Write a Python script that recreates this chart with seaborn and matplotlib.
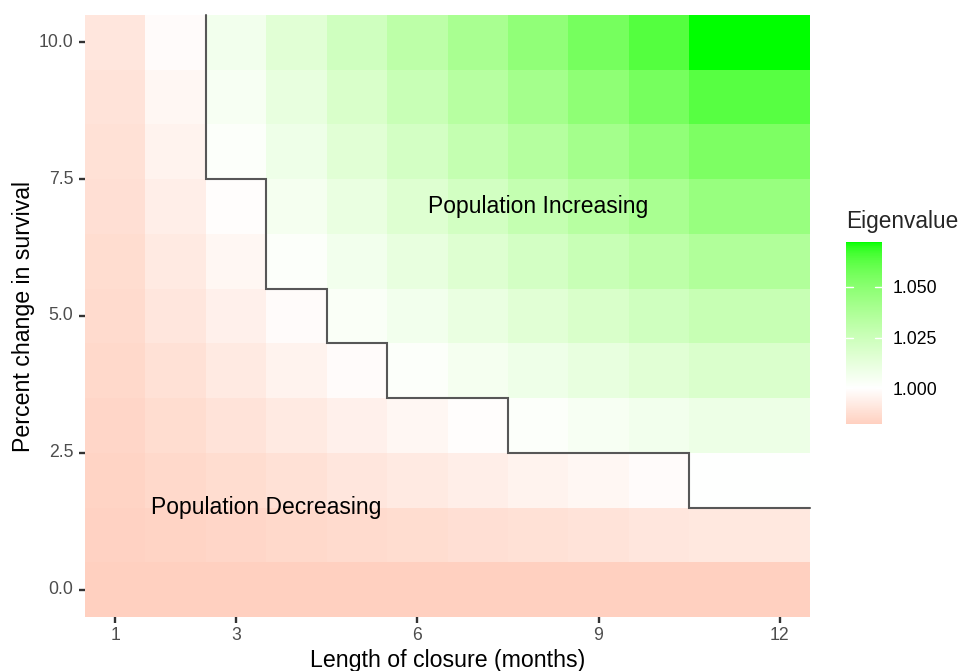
import numpy as np
import pandas as pd
import matplotlib
matplotlib.use("Agg")
import matplotlib.pyplot as plt
from matplotlib.colors import ListedColormap
import seaborn as sns

# Length of closure (months) and percent change in survival
months = [1, 2, 3, 4, 5, 6, 7, 8, 9, 10, 11, 12]
survival_change = [0, 1, 2, 3, 4, 5, 6, 7, 8, 9, 10]

# dominant eigenvalue for each cell, one row per survival change (0 .. 10)
eigenvalues = [
    [0.9824, 0.9824, 0.9824, 0.9824, 0.9824, 0.9824, 0.9824, 0.9824, 0.9824, 0.9824, 0.9824, 0.9824],
    [0.9832, 0.9840, 0.9848, 0.9857, 0.9865, 0.9873, 0.9881, 0.9889, 0.9897, 0.9906, 0.9914, 0.9914],
    [0.9840, 0.9857, 0.9873, 0.9889, 0.9906, 0.9922, 0.9938, 0.9954, 0.9971, 0.9987, 1.0003, 1.0003],
    [0.9848, 0.9873, 0.9897, 0.9922, 0.9946, 0.9971, 0.9995, 1.0020, 1.0044, 1.0069, 1.0093, 1.0093],
    [0.9857, 0.9889, 0.9922, 0.9954, 0.9987, 1.0020, 1.0052, 1.0085, 1.0117, 1.0150, 1.0183, 1.0183],
    [0.9865, 0.9906, 0.9946, 0.9987, 1.0028, 1.0069, 1.0109, 1.0150, 1.0191, 1.0232, 1.0272, 1.0272],
    [0.9873, 0.9922, 0.9971, 1.0020, 1.0069, 1.0117, 1.0166, 1.0215, 1.0264, 1.0313, 1.0362, 1.0362],
    [0.9881, 0.9938, 0.9995, 1.0052, 1.0109, 1.0166, 1.0223, 1.0280, 1.0337, 1.0395, 1.0452, 1.0452],
    [0.9889, 0.9954, 1.0020, 1.0085, 1.0150, 1.0215, 1.0280, 1.0346, 1.0411, 1.0476, 1.0541, 1.0541],
    [0.9897, 0.9971, 1.0044, 1.0117, 1.0191, 1.0264, 1.0337, 1.0411, 1.0484, 1.0558, 1.0631, 1.0631],
    [0.9906, 0.9987, 1.0069, 1.0150, 1.0232, 1.0313, 1.0395, 1.0476, 1.0558, 1.0639, 1.0721, 1.0721],
]

x_ticks = [1, 3, 6, 9, 12]
y_ticks = [0.0, 2.5, 5.0, 7.5, 10.0]
y_tick_labels = ["0.0", "2.5", "5.0", "7.5", "10.0"]
bar_ticks = [1.000, 1.025, 1.050]
bar_tick_labels = ["1.000", "1.025", "1.050"]

RGB2XYZ = np.array([[0.4124, 0.3576, 0.1805],
                    [0.2126, 0.7152, 0.0722],
                    [0.0193, 0.1192, 0.9505]])
WHITE = np.array([0.95047, 1.0, 1.08883])


def srgb_to_lab(c):
    c = np.asarray(c, float)
    lin = np.where(c <= 0.04045, c / 12.92, ((c + 0.055) / 1.055) ** 2.4)
    xyz = lin @ RGB2XYZ.T / WHITE
    f = np.where(xyz > 216 / 24389, np.cbrt(xyz), (24389 / 27 * xyz + 16) / 116)
    return np.stack([116 * f[..., 1] - 16,
                     500 * (f[..., 0] - f[..., 1]),
                     200 * (f[..., 1] - f[..., 2])], -1)


def lab_to_srgb(lab):
    fy = (lab[..., 0] + 16) / 116
    f = np.stack([fy + lab[..., 1] / 500, fy, fy - lab[..., 2] / 200], -1)
    xyz = np.where(f ** 3 > 216 / 24389, f ** 3, (116 * f - 16) / (24389 / 27)) * WHITE
    lin = np.clip(xyz @ np.linalg.inv(RGB2XYZ).T, 0, 1)
    srgb = np.where(lin <= 0.0031308, 12.92 * lin, 1.055 * lin ** (1 / 2.4) - 0.055)
    return np.clip(srgb, 0, 1)


vals = np.array(eigenvalues)
vmin, vmax = vals.min(), vals.max()

# red - white - green gradient around 1, interpolated in Lab like ggplot's gradient2
reach = max(vmax - 1, 1 - vmin)
levels = np.linspace(vmin, vmax, 256)
pos = 0.5 + (levels - 1) / (2 * reach)
lab_stops = srgb_to_lab([[1, 0, 0], [1, 1, 1], [0, 1, 0]])
lab = np.stack([np.interp(pos, [0, 0.5, 1], lab_stops[:, k]) for k in range(3)], -1)
cmap = ListedColormap(lab_to_srgb(lab))

sns.set_theme(style="white")
plt.rcParams["font.family"] = ["Liberation Sans", "DejaVu Sans"]

df = pd.DataFrame(vals, index=survival_change, columns=months)

fig = plt.figure(figsize=(9.6, 6.71), dpi=100)
ax = fig.add_axes([85 / 960, 54 / 671, 725 / 960, 602 / 671])
cax = fig.add_axes([846 / 960, 247 / 671, 36 / 960, 182 / 671])

sns.heatmap(df, ax=ax, cmap=cmap, vmin=vmin, vmax=vmax, cbar_ax=cax, linewidths=0)
ax.set_ylim(0, len(survival_change))
ax.set_xlim(0, len(months))

# boundary where the eigenvalue reaches 1
top = survival_change[-1] + 0.5
path_x, path_y = [], []
for j, m in enumerate(months):
    above = np.nonzero(vals[:, j] >= 1)[0]
    if len(above) == 0:
        continue
    edge = survival_change[above[0]] - 0.5
    if not path_x:
        path_x.append(m - 0.5)
        path_y.append(top)
    path_x += [m - 0.5, m + 0.5]
    path_y += [edge, edge]
ax.plot(np.array(path_x) - 0.5, np.array(path_y) + 0.5, color="#575757", lw=1.5,
        solid_joinstyle="miter", clip_on=False)

ax.text(8 - 0.5, 7 + 0.5, "Population Increasing", ha="center", va="center",
        fontsize=16.5, color="black")
ax.text(3.5 - 0.5, 1.5 + 0.5, "Population Decreasing", ha="center", va="center",
        fontsize=16.5, color="black")

ax.set_xticks([m - 0.5 for m in x_ticks])
ax.set_xticklabels([str(m) for m in x_ticks], rotation=0)
ax.set_yticks([v + 0.5 for v in y_ticks])
ax.set_yticklabels(y_tick_labels, rotation=0)
ax.tick_params(axis="both", bottom=True, left=True, length=4.5, width=1.7,
               color="#333333", labelcolor="#4D4D4D", labelsize=12.7)
ax.tick_params(axis="x", pad=2.5)
ax.tick_params(axis="y", pad=4)
ax.set_xlabel("Length of closure (months)", fontsize=16.7, labelpad=3.5, color="black")
ax.set_ylabel("Percent change in survival", fontsize=16.7, labelpad=2.5, color="black")

cbar = ax.collections[0].colorbar
cbar.outline.set_visible(False)
cbar.set_ticks(bar_ticks)
cbar.set_ticklabels(bar_tick_labels)
cax.tick_params(length=0, labelsize=12.7, colors="black", pad=8)
for v in bar_ticks:
    cax.axhline(v, 0, 0.2, color="white", lw=1.0)
    cax.axhline(v, 0.8, 1, color="white", lw=1.0)

fig.text(846 / 960, 1 - 228 / 671, "Eigenvalue", fontsize=16.3, ha="left", va="baseline")

fig.savefig("out.png", dpi=100)
plt.close(fig)
